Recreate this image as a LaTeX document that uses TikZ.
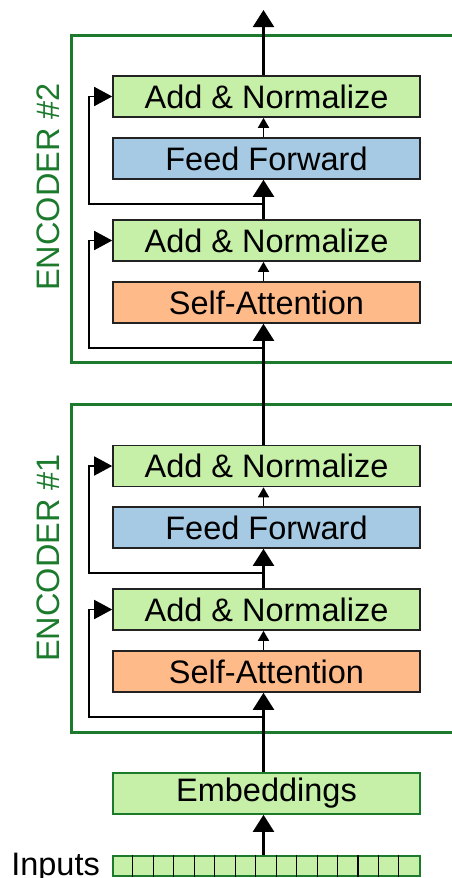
\documentclass[tikz,border=0pt]{standalone}
\usepackage{fontspec}
\setmainfont{Liberation Sans}
\usetikzlibrary{arrows.meta,calc}
\definecolor{addgreen}{RGB}{198,239,167}
\definecolor{ffblue}{RGB}{166,202,227}
\definecolor{saorange}{RGB}{255,186,138}
\definecolor{encgreen}{RGB}{28,122,44}
\definecolor{edgegray}{RGB}{34,34,34}
\tikzset{
  layer/.style={draw=edgegray, line width=1.6pt, minimum width=307pt, minimum height=41pt,
    inner sep=0pt, font=\fontsize{32.5}{39}\selectfont},
  addnorm/.style={layer, fill=addgreen},
  ffbox/.style={layer, fill=ffblue},
  sabox/.style={layer, fill=saorange},
  embbox/.style={layer, fill=addgreen, draw=encgreen},
  frame/.style={draw=encgreen, line width=3pt},
  enclabel/.style={rotate=90, text=encgreen, inner sep=0pt, font=\fontsize{32.5}{39}\selectfont},
  bigflow/.style={line width=2.2pt, -{Triangle[length=17pt, width=21pt]}},
  smallflow/.style={line width=1.6pt, -{Triangle[length=10pt, width=11pt]}},
  residual/.style={line width=1.6pt, -{Triangle[length=18pt, width=19pt]}},
  shifted/.style={xshift=-3pt},
}
\begin{document}
\begin{tikzpicture}[x=1pt, y=-1pt]
\useasboundingbox (0,0) rectangle (452,878);

% encoder frames, open on the right
\draw[frame] (452,35) -- (71,35) -- (71,362) -- (452,362);
\draw[frame] (452,404) -- (71,404) -- (71,732) -- (452,732);
\node[enclabel] (lab2) at (48,187) {ENCODER \#2};
\node[enclabel] (lab1) at (48,558) {ENCODER \#1};

% encoder #2 layers
\node[addnorm] (an2b) at (266.5,96.5)  {Add \& Normalize};
\node[ffbox]   (ff2)  at (266.5,158.5) {Feed Forward};
\node[addnorm] (an2a) at (266.5,240.5) {Add \& Normalize};
\node[sabox]   (sa2)  at (266.5,302.5) {Self-Attention};

% encoder #1 layers
\node[addnorm] (an1b) at (266.5,466)   {Add \& Normalize};
\node[ffbox]   (ff1)  at (266.5,527.5) {Feed Forward};
\node[addnorm] (an1a) at (266.5,609.5) {Add \& Normalize};
\node[sabox]   (sa1)  at (266.5,671.5) {Self-Attention};

% embeddings and input tokens
\node[embbox] (emb) at (266.5,793.5) {Embeddings};
\node[draw=encgreen, fill=addgreen, line width=1.2pt, minimum width=307pt, minimum height=20pt,
  inner sep=0pt] (inp) at (266.5,866) {};
\foreach \i in {1,...,14}
  \draw[line width=1.1pt] ($(inp.north west)+(\i*20.4667,0)$) -- ($(inp.south west)+(\i*20.4667,0)$);
\node[anchor=base east, inner sep=0pt, font=\fontsize{32.5}{39}\selectfont] (inlabel) at (100,875) {Inputs};

% taps where the residual paths leave the main flow
\coordinate (tap1a) at (263.5,717);
\coordinate (rail1a) at (89,717);
\coordinate (tap1b) at (263.5,573);
\coordinate (rail1b) at (89,573);
\coordinate (tap2a) at (263.5,348);
\coordinate (rail2a) at (89,348);
\coordinate (tap2b) at (263.5,204);
\coordinate (rail2b) at (89,204);
\coordinate (out) at (263.5,10);

% main flow
\draw[bigflow] ([shifted]inp.north) -- ([shifted]emb.south);
\draw[bigflow] ([shifted]emb.north) -- ([shifted]sa1.south);
\draw[smallflow] ([shifted]sa1.north) -- ([shifted]an1a.south);
\draw[bigflow] ([shifted]an1a.north) -- ([shifted]ff1.south);
\draw[smallflow] ([shifted]ff1.north) -- ([shifted]an1b.south);
\draw[bigflow] ([shifted]an1b.north) -- ([shifted]sa2.south);
\draw[smallflow] ([shifted]sa2.north) -- ([shifted]an2a.south);
\draw[bigflow] ([shifted]an2a.north) -- ([shifted]ff2.south);
\draw[smallflow] ([shifted]ff2.north) -- ([shifted]an2b.south);
\draw[bigflow] ([shifted]an2b.north) -- (out);

% residual connections
\draw[residual] (tap1a) -- (rail1a) |- (an1a.west);
\draw[residual] (tap1b) -- (rail1b) |- (an1b.west);
\draw[residual] (tap2a) -- (rail2a) |- (an2a.west);
\draw[residual] (tap2b) -- (rail2b) |- (an2b.west);
\end{tikzpicture}
\end{document}
